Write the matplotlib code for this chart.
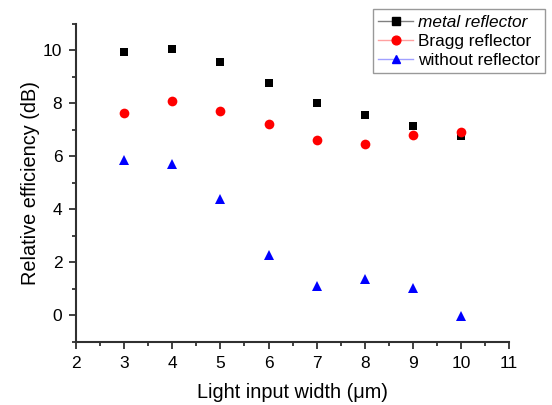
import numpy as np
import matplotlib
matplotlib.use("Agg")
import matplotlib.pyplot as plt
from matplotlib.ticker import MultipleLocator

plt.rcParams.update({
    "font.family": ["Liberation Sans", "DejaVu Sans"],
    "font.size": 11,
})

width = [3, 4, 5, 6, 7, 8, 9, 10]
metal = [9.95, 10.05, 9.55, 8.78, 8.03, 7.58, 7.15, 6.76]
bragg = [7.64, 8.09, 7.73, 7.21, 6.60, 6.48, 6.82, 6.91]
without = [5.86, 5.71, 4.39, 2.28, 1.10, 1.38, 1.02, -0.02]

series = [
    ("metal reflector", metal, "black", "s", "#808080", 5.8),
    ("Bragg reflector", bragg, "red", "o", "#ffa0a0", 7.0),
    ("without reflector", without, "blue", "^", "#a0a0ff", 7.0),
]

fig = plt.figure(figsize=(5.52, 4.05), dpi=100)
ax = fig.add_axes([0.138, 0.156, 0.784, 0.785])

handles = []
for label, vals, color, marker, lcol, ms in series:
    ax.plot(width, vals, ls="none", marker=marker, color=color,
            markersize=ms, markeredgewidth=0)
    h, = ax.plot([], [], color=lcol, lw=1.0, marker=marker,
                 markerfacecolor=color, markeredgecolor=color,
                 markersize=ms * 0.9, label=label)
    handles.append(h)

ax.set_xlim(2, 11)
ax.set_ylim(-1, 11)
ax.xaxis.set_major_locator(MultipleLocator(1))
ax.xaxis.set_minor_locator(MultipleLocator(0.5))
ax.yaxis.set_major_locator(MultipleLocator(2))
ax.yaxis.set_minor_locator(MultipleLocator(1))
ax.tick_params(which="major", direction="out", length=5, width=1.3,
               labelsize=12.5, color="#303030", pad=5)
ax.tick_params(which="minor", direction="out", length=3, width=1.3,
               color="#303030")
for s in ("top", "right"):
    ax.spines[s].set_visible(False)
for s in ("left", "bottom"):
    ax.spines[s].set_linewidth(1.5)
    ax.spines[s].set_color("#303030")

ax.set_xlabel("Light input width (\u03bcm)", fontsize=14.3, labelpad=9)
ax.set_ylabel("Relative efficiency (dB)", fontsize=14.3, labelpad=2)

leg = fig.legend(handles=handles, loc="upper right",
                 bbox_to_anchor=(0.988, 0.977), fontsize=12.4,
                 fancybox=False, shadow=False, edgecolor="#808080",
                 borderpad=0.3, handlelength=2.0, handletextpad=0.3,
                 labelspacing=0.25, borderaxespad=0)
leg.get_frame().set_linewidth(1.0)
leg.get_texts()[0].set_fontstyle("italic")

fig.savefig("out.png", dpi=100)
